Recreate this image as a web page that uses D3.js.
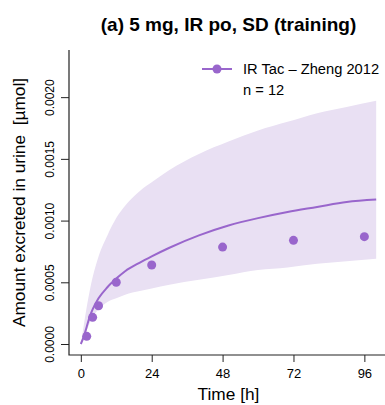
<!DOCTYPE html>
<html>
<head>
<meta charset="utf-8">
<script src="https://cdn.jsdelivr.net/npm/d3@7"></script>
<style>
  html, body { margin: 0; padding: 0; background: #fff; overflow: hidden; }
  svg { display: block; font-family: "Liberation Sans", Arial, Helvetica, sans-serif; }
  text { white-space: pre; }
</style>
</head>
<body>
<svg id="chart" width="385" height="405"></svg>
<script>
// ---- data ----
const simTime   = [0, 1, 2, 3, 4, 6, 9, 12, 15, 20, 24, 30, 40, 50, 60, 70, 80, 90, 100];
const simMedian = [0, 0.00006, 0.00014, 0.00022, 0.00028, 0.00037, 0.00046, 0.00053, 0.00059, 0.00066, 0.00071, 0.00078, 0.00088, 0.00096, 0.00102, 0.00107, 0.00111, 0.00115, 0.00117];
const simLower  = [0, 0.00005, 0.00011, 0.00017, 0.00022, 0.00028, 0.00034, 0.00037, 0.00040, 0.00043, 0.00045, 0.00048, 0.00052, 0.00056, 0.00060, 0.00062, 0.00065, 0.00067, 0.00069];
const simUpper  = [0, 0.00015, 0.00030, 0.00043, 0.00054, 0.00071, 0.00088, 0.00102, 0.00112, 0.00124, 0.00131, 0.00141, 0.00154, 0.00164, 0.00173, 0.00180, 0.00187, 0.00192, 0.00197];
const obsTime   = [2, 4, 6, 12, 24, 48, 72, 96];
const obsValue  = [0.000062, 0.000216, 0.00031, 0.0005, 0.00064, 0.000785, 0.00084, 0.00087];
const xTicks    = [0, 24, 48, 72, 96];
const yTicks    = [0, 0.0005, 0.001, 0.0015, 0.002];
const yTickLabels = ["0.0000", "0.0005", "0.0010", "0.0015", "0.0020"];
const titleText = "(a) 5 mg, IR po, SD (training)";
const legendLabel = "IR Tac \u2013 Zheng 2012";
const legendN = "n = 12";
const xTitle = "Time [h]";
const yTitle = "Amount excreted in urine  [\u00b5mol]";

// ---- layout ----
const purple = "#9966cc";
const band = "#e9e0f3";
const L = 69, R = 388, T = 50, B = 355;
const svg = d3.select("#chart");

const x = d3.scaleLinear().domain([-4, 104]).range([L, R]);
const y = d3.scaleLinear().domain([-0.000089, 0.002382]).range([B, T]);

const sim = simTime.map((t, i) => ({t, m: simMedian[i], lo: simLower[i], hi: simUpper[i]}));
const obs = obsTime.map((t, i) => ({t, v: obsValue[i]}));

// band
svg.append("path")
  .datum(sim)
  .attr("fill", band)
  .attr("d", d3.area().curve(d3.curveMonotoneX)
    .x(d => x(d.t)).y0(d => y(d.lo)).y1(d => y(d.hi)));

// median line
svg.append("path")
  .datum(sim)
  .attr("fill", "none")
  .attr("stroke", purple)
  .attr("stroke-width", 2)
  .attr("d", d3.line().curve(d3.curveMonotoneX).x(d => x(d.t)).y(d => y(d.m)));

// observed points
svg.append("g").selectAll("circle").data(obs).join("circle")
  .attr("cx", d => x(d.t)).attr("cy", d => y(d.v)).attr("r", 4.5)
  .attr("fill", purple);

// L-shaped box
svg.append("path")
  .attr("d", `M${L},${T}V${B}H${R}`)
  .attr("fill", "none").attr("stroke", "#222").attr("stroke-width", 1.2);

// x axis
const xa = svg.append("g").attr("transform", `translate(0,${B})`)
  .call(d3.axisBottom(x).tickValues(xTicks).tickSize(7).tickFormat(d3.format("d")));
xa.select(".domain").remove();
xa.selectAll("line").attr("stroke", "#222");
xa.selectAll("text").attr("font-size", 13).attr("fill", "#000").attr("dy", null).attr("y", 23)
  .attr("font-family", "Liberation Sans, Arial, sans-serif");

// y axis
const ya = svg.append("g").attr("transform", `translate(${L},0)`)
  .call(d3.axisLeft(y).tickValues(yTicks).tickSize(8).tickFormat((d, i) => yTickLabels[i]));
ya.select(".domain").remove();
ya.selectAll("line").attr("stroke", "#222");
ya.selectAll("text")
  .attr("font-size", 12).attr("fill", "#000")
  .attr("x", null).attr("dy", null)
  .attr("text-anchor", "middle")
  .attr("font-family", "Liberation Sans, Arial, sans-serif")
  .attr("transform", "translate(-15,0) rotate(-90)");

// title
svg.append("text").attr("x", (L + R) / 2).attr("y", 31)
  .attr("text-anchor", "middle").attr("font-weight", "bold").attr("font-size", 19)
  .attr("fill", "#000").text(titleText);

// axis titles
svg.append("text").attr("x", (L + R) / 2).attr("y", 400)
  .attr("text-anchor", "middle").attr("font-size", 17.3).attr("fill", "#000").text(xTitle);
svg.append("text")
  .attr("transform", `translate(25,${(T + B) / 2}) rotate(-90)`)
  .attr("text-anchor", "middle").attr("font-size", 17.3).attr("fill", "#000").text(yTitle);

// legend
const lg = svg.append("g");
lg.append("line").attr("x1", 202).attr("x2", 232).attr("y1", 69).attr("y2", 69)
  .attr("stroke", purple).attr("stroke-width", 2);
lg.append("circle").attr("cx", 217).attr("cy", 69).attr("r", 4.5).attr("fill", purple);
lg.append("text").attr("x", 243).attr("y", 74).attr("font-size", 14.7).attr("fill", "#000").text(legendLabel);
lg.append("text").attr("x", 243).attr("y", 95).attr("font-size", 14.7).attr("fill", "#000").text(legendN);
</script>
</body>
</html>
